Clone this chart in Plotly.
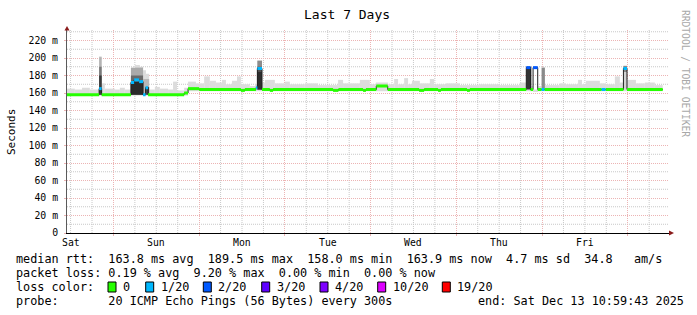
import plotly.graph_objects as go

# ---------------- data (hours after start = Sat Dec 6 10:59:43) ----------------
day_labels = ["Sat", "Sun", "Mon", "Tue", "Wed", "Thu", "Fri"]
label_hours = [1.005, 25.005, 49.005, 73.005, 97.005, 121.005, 145.005]      # noon of each day
midnight_hours = [13.005, 37.005, 61.005, 85.005, 109.005, 133.005, 157.005]
y_tick_vals = [0, 20, 40, 60, 80, 100, 120, 140, 160, 180, 200, 220]
y_tick_text = ["0", "20 m", "40 m", "60 m", "80 m", "100 m", "120 m", "140 m",
               "160 m", "180 m", "200 m", "220 m"]
y_minor_vals = [10, 30, 50, 70, 90, 110, 130, 150, 170, 190, 210, 230]

# median RTT (ms) as step segments, with loss count (out of 20)
med_start_h = [0.0, 9.0, 9.7, 17.9, 18.8, 20.2, 21.3, 22.0, 22.7, 32.8, 33.9, 37.0, 48.7, 49.8,
               52.9, 53.3, 54.6, 56.8, 57.7, 74.5, 76.0, 82.9, 83.7, 86.6, 89.8, 98.6, 100.0,
               103.9, 104.7, 112.0, 112.8, 128.6, 129.8, 130.5, 131.8, 132.9, 133.7, 149.7,
               150.8, 155.8, 156.8]
med_ms = [158, 165, 158, 172, 175, 173, 158, 166, 158, 160, 165, 164, 163, 164,
          166, 188, 164, 163, 164, 163, 164, 163, 164, 168, 164, 163, 164,
          163, 164, 163, 164, 189, 164, 189, 164, 164, 164, 164,
          164, 188, 164]
med_loss = [0, 1, 0, 1, 1, 1, 1, 1, 0, 0, 0, 0, 0, 0,
            1, 1, 0, 0, 0, 0, 0, 0, 0, 0, 0, 0, 0,
            0, 0, 0, 0, 2, 0, 2, 0, 1, 0, 1,
            0, 1, 0]
data_end_h = 166.8

# light smoke (spread of the 20 pings)
smoke_start_h = [0.0, 2.2, 4.2, 6.4, 9.0, 9.7, 10.6, 13.4, 14.8, 16.2, 17.9, 19.0, 20.4, 21.3,
                 22.1, 23.0, 24.6, 26.0, 28.3, 29.7, 30.8, 32.8, 33.9, 36.1, 38.4, 40.0, 41.7,
                 43.4, 44.5, 46.2, 47.6, 48.7, 51.2, 52.9, 53.3, 54.6, 55.4, 58.2, 61.0, 62.4,
                 66.6, 70.3, 75.9, 77.3, 82.0, 84.8, 86.5, 89.9, 91.6, 92.7, 94.4, 95.5, 96.6,
                 98.8, 101.6, 102.8, 106.1, 110.0, 115.6, 121.2, 126.8, 128.6, 130.0, 130.5,
                 131.9, 132.9, 133.8, 138.0, 139.7, 143.1, 144.2, 145.3, 149.2, 150.9, 153.4,
                 154.8, 155.8, 156.8, 159.3, 161.8, 164.6]
smoke_lo_ms = [157, 157, 157, 157, 157, 157, 157, 157, 157, 157, 157, 157, 157, 157,
               157, 157, 157, 157, 157, 157, 157, 157, 162, 162, 162, 162, 162,
               162, 162, 162, 162, 162, 162, 162, 162, 162, 162, 162, 162, 162,
               162, 162, 162, 162, 162, 162, 162, 162, 162, 162, 162, 162, 162,
               162, 162, 162, 162, 162, 162, 162, 162, 162, 162, 162,
               162, 162, 162, 162, 162, 162, 162, 162, 162, 162, 162,
               162, 162, 162, 162, 162, 162]
smoke_hi_ms = [165, 164, 166, 164, 202, 171, 165, 164, 166, 164, 186, 192, 190, 186,
               182, 164, 167, 165, 164, 173, 163, 166, 173, 171, 179, 174, 172,
               175, 170, 174, 179, 170, 168, 170, 197, 172, 175, 171, 173, 170,
               171, 169, 175, 171, 175, 170, 172, 170, 176, 170, 177, 170, 174,
               171, 176, 170, 171, 169, 170, 169, 172, 190, 168, 164,
               168, 189, 169, 171, 170, 175, 170, 174, 171, 170, 179,
               172, 191, 175, 171, 172, 169]

# denser smoke layers during loss events
dark_start_h = [9.0, 9.0, 9.0, 17.9, 17.9, 17.9, 21.3, 22.0, 53.3, 53.3, 53.3, 128.6, 132.9, 155.8, 155.8]
dark_end_h = [9.7, 9.7, 9.7, 21.3, 21.3, 21.3, 23.0, 23.0, 54.6, 54.6, 54.6, 130.0, 133.8, 156.8, 156.8]
dark_lo_ms = [158, 158, 158, 158, 158, 158, 158, 158, 164, 164, 164, 164, 164, 164, 184]
dark_hi_ms = [201, 190, 180, 189, 180, 173, 176, 167, 197, 190, 184, 190, 189, 191, 191]
dark_shade = ["#b4b4b4", "#7a7a7a", "#3a3a3a", "#aaaaaa", "#6a6a6a", "#2a2a2a", "#b8b8b8",
              "#4a4a4a", "#8c8c8c", "#505050", "#2e2e2e", "#333333", "#8a8a8a", "#d2d2d2", "#8a8a8a"]

loss_levels = [0, 1, 2, 3, 4, 10, 19]
loss_names = ["0", "1/20", "2/20", "3/20", "4/20", "10/20", "19/20"]
loss_colors = ["#26ff00", "#00b8ff", "#0059ff", "#5e00ff", "#7e00ff", "#dd00ff", "#ff0000"]

title_text = "Last 7 Days"
y_title = "Seconds"
watermark = "RRDTOOL / TOBI OETIKER"
line_rtt = "median rtt:  163.8 ms avg  189.5 ms max  158.0 ms min  163.9 ms now  4.7 ms sd  34.8   am/s"
line_loss = "packet loss: 0.19 % avg  9.20 % max  0.00 % min  0.00 % now"
line_color = "loss color:"
line_probe = "probe:       20 ICMP Echo Pings (56 Bytes) every 300s"
line_end = "end: Sat Dec 13 10:59:43 2025"

# ---------------- styling ----------------
FONT = "DejaVu Sans Mono"
MGRID = "#ecb4b4"
GRID = "#c8c8c8"
W, H = 697, 315
L, R, T, B = 67, 669, 30, 233  # plot area in pixels


def px(xp):
    return (xp - L) / (R - L)


def py(yp):
    return (B - yp) / (B - T)


def nb(s):
    return s.replace(" ", "\u00a0")


# 6-hourly minor grid positions (excluding the midnight major lines)
x_minor_vals = [label_hours[0] + 6 * k for k in range(28) if k % 4 != 2]

fig = go.Figure()

# light smoke
s_end = smoke_start_h[1:] + [data_end_h]
fig.add_trace(go.Bar(
    x=[(a + b) / 2 for a, b in zip(smoke_start_h, s_end)],
    width=[b - a for a, b in zip(smoke_start_h, s_end)],
    base=smoke_lo_ms,
    y=[h - l for h, l in zip(smoke_hi_ms, smoke_lo_ms)],
    marker=dict(color="#dcdcdc", line=dict(width=0)),
    hoverinfo="skip", showlegend=False))

# dense smoke
fig.add_trace(go.Bar(
    x=[(a + b) / 2 for a, b in zip(dark_start_h, dark_end_h)],
    width=[b - a for a, b in zip(dark_start_h, dark_end_h)],
    base=dark_lo_ms,
    y=[h - l for h, l in zip(dark_hi_ms, dark_lo_ms)],
    marker=dict(color=dark_shade, line=dict(width=0)),
    hoverinfo="skip", showlegend=False))

# thin dark median step line
fig.add_trace(go.Scatter(
    x=med_start_h + [data_end_h], y=med_ms + [med_ms[-1]],
    mode="lines", line=dict(color="#202020", width=1, shape="hv"),
    hoverinfo="skip", showlegend=False))

# coloured median by loss
m_end = med_start_h[1:] + [data_end_h]
for lv, col in zip(loss_levels, loss_colors):
    xs, ys = [], []
    for s, e, v, l in zip(med_start_h, m_end, med_ms, med_loss):
        if l == lv:
            xs += [s, e, None]
            ys += [v, v, None]
    if xs:
        fig.add_trace(go.Scatter(x=xs, y=ys, mode="lines",
                                 line=dict(color=col, width=3),
                                 hoverinfo="skip", showlegend=False))

fig.update_layout(
    width=W, height=H,
    margin=dict(l=L, r=W - R, t=T, b=H - B, pad=0),
    paper_bgcolor="white", plot_bgcolor="white",
    barmode="overlay", showlegend=False,
    font=dict(family=FONT, color="black", size=10),
)

fig.update_xaxes(
    range=[0, 168.56], tickmode="array", tickvals=midnight_hours, showticklabels=False,
    showgrid=True, gridcolor=MGRID, griddash="1px,1px", gridwidth=1,
    zeroline=False, showline=True, linecolor="black", linewidth=1,
    ticks="outside", ticklen=2, tickcolor=MGRID,
)
fig.update_yaxes(
    range=[0, 232], tickmode="array", tickvals=y_tick_vals, ticktext=y_tick_text,
    tickfont=dict(family=FONT, size=9.8, color="black"),
    showgrid=True, gridcolor=MGRID, griddash="1px,1px", gridwidth=1,
    zeroline=False, showline=True, linecolor="#5a5a5a", linewidth=1,
    ticks="outside", ticklen=2, tickcolor=MGRID, ticklabelstandoff=4,
)

shapes = []
# minor grid (gray dotted)
for xv in x_minor_vals:
    shapes.append(dict(type="line", xref="x", yref="paper", x0=xv, x1=xv, y0=0, y1=1,
                       layer="below", line=dict(color=GRID, width=1, dash="1px,1px")))
for yv in y_minor_vals:
    shapes.append(dict(type="line", xref="paper", yref="y", x0=0, x1=1, y0=yv, y1=yv,
                       layer="below", line=dict(color=GRID, width=1, dash="1px,1px")))

ann = []
# day labels
for lab, h in zip(day_labels, label_hours):
    ann.append(dict(x=h, xref="x", y=py(242), yref="paper", text=lab, showarrow=False,
                    xanchor="center", yanchor="middle", font=dict(family=FONT, size=9.8)))
ann.append(dict(x=px(347), y=py(14), xref="paper", yref="paper", text=title_text,
                showarrow=False, xanchor="center", yanchor="middle", font=dict(family=FONT, size=13)))
ann.append(dict(x=px(11), y=py(132), xref="paper", yref="paper", text=y_title, textangle=-90,
                showarrow=False, xanchor="center", yanchor="middle", font=dict(family=FONT, size=11)))
ann.append(dict(x=px(686), y=py(73), xref="paper", yref="paper", text=nb(watermark), textangle=90,
                showarrow=False, xanchor="center", yanchor="middle",
                font=dict(family=FONT, size=9.6, color="#a8a8a8")))

LEG = 11.8
for txt, yy in [(line_rtt, 259.3), (line_loss, 273.3), (line_color, 286.7), (line_probe, 301)]:
    ann.append(dict(x=px(14), y=py(yy), xref="paper", yref="paper", text=nb(txt), showarrow=False,
                    xanchor="left", yanchor="middle", font=dict(family=FONT, size=LEG)))
ann.append(dict(x=px(476), y=py(301), xref="paper", yref="paper", text=nb(line_end), showarrow=False,
                xanchor="left", yanchor="middle", font=dict(family=FONT, size=LEG)))

sq_x = [108, 145.7, 203.3, 261.7, 320, 377.7, 442.3]
for sx, name, col in zip(sq_x, loss_names, loss_colors):
    shapes.append(dict(type="rect", xref="paper", yref="paper",
                       x0=px(sx), x1=px(sx + 8), y0=py(292), y1=py(282),
                       fillcolor=col, line=dict(color="black", width=1)))
    ann.append(dict(x=px(sx + 13), y=py(286.7), xref="paper", yref="paper", text=nb(name),
                    showarrow=False, xanchor="left", yanchor="middle", font=dict(family=FONT, size=LEG)))

# axis arrows
ARROW = "#8a1b1b"
shapes.append(dict(type="path", xref="paper", yref="paper",
                   path=f"M {px(64.5)},{py(30.5)} L {px(69.5)},{py(30.5)} L {px(67)},{py(26)} Z",
                   fillcolor=ARROW, line=dict(width=0)))
shapes.append(dict(type="path", xref="paper", yref="paper",
                   path=f"M {px(669)},{py(230.5)} L {px(669)},{py(235.5)} L {px(674)},{py(233)} Z",
                   fillcolor=ARROW, line=dict(width=0)))

fig.update_layout(annotations=ann, shapes=shapes)
fig.write_html("out.html")
